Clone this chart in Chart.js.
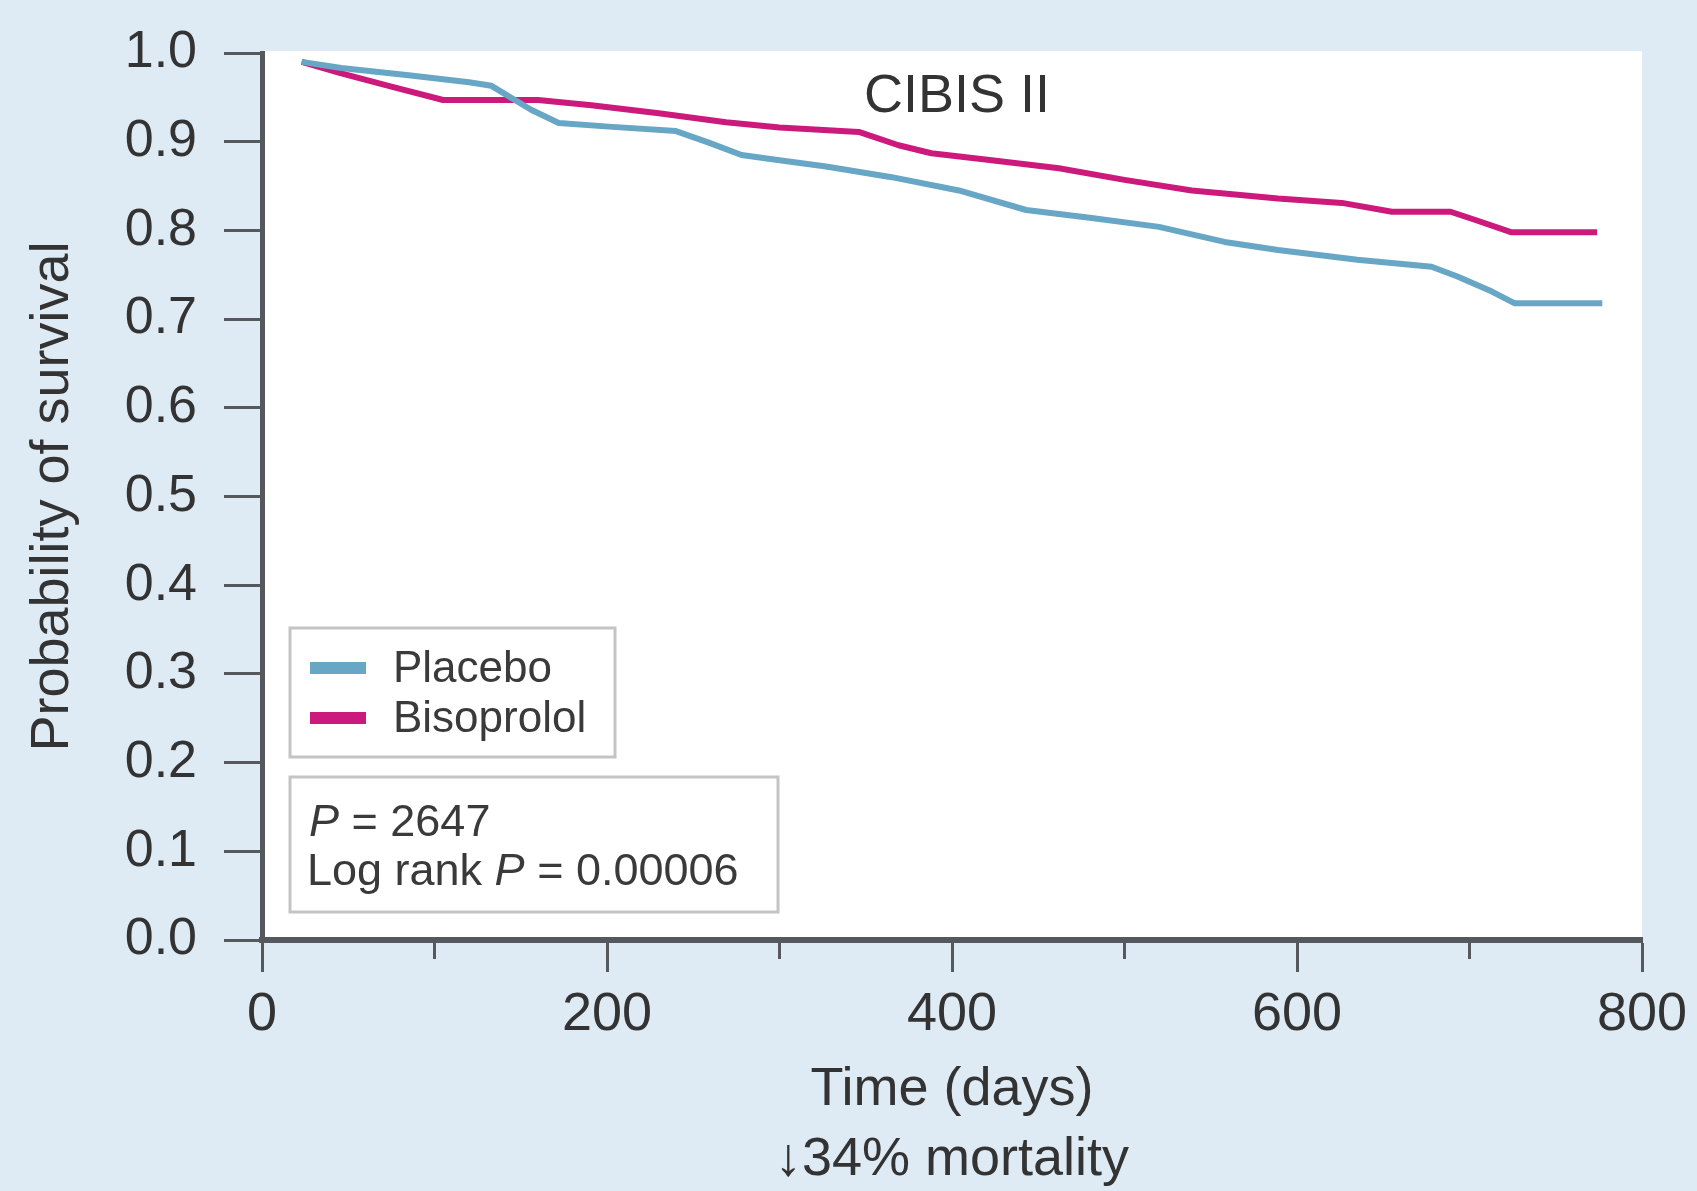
<!DOCTYPE html>
<html>
<head>
<meta charset="utf-8">
<title>CIBIS II</title>
<script src="https://cdn.jsdelivr.net/npm/chart.js@4.4.1/dist/chart.umd.min.js"></script>
<style>
    html, body { margin: 0; padding: 0; background: #deeaf4; }
    canvas { display: block; }
</style>
</head>
<body>
<canvas id="survChart" width="1697" height="1191"></canvas>
<script>
// survival curves (days, probability)
const placeboDays = [23, 46, 85, 120, 133, 156, 172, 201, 240, 259, 278, 300, 327, 365, 404, 443, 481, 520, 558, 589, 635, 678, 693, 713, 726, 777];
const placeboSurv = [0.990, 0.983, 0.975, 0.967, 0.963, 0.936, 0.921, 0.917, 0.912, 0.899, 0.885, 0.879, 0.872, 0.860, 0.845, 0.823, 0.814, 0.804, 0.787, 0.778, 0.767, 0.759, 0.748, 0.731, 0.718, 0.718];
const bisoDays = [23, 46, 75, 105, 160, 191, 230, 269, 300, 346, 369, 388, 423, 462, 500, 539, 589, 626, 655, 689, 703, 724, 774];
const bisoSurv = [0.990, 0.977, 0.962, 0.947, 0.947, 0.941, 0.932, 0.922, 0.916, 0.911, 0.896, 0.887, 0.879, 0.870, 0.857, 0.845, 0.836, 0.831, 0.821, 0.821, 0.812, 0.798, 0.798];

const seriesNames = ['Placebo', 'Bisoprolol'];
const seriesColors = ['#68a6c6', '#cc1a7c'];

const xTickValues = [0, 100, 200, 300, 400, 500, 600, 700, 800];
const xTickLabels = ['0', '', '200', '', '400', '', '600', '', '800'];
const yTickValues = [0, 0.1, 0.2, 0.3, 0.4, 0.5, 0.6, 0.7, 0.8, 0.9, 1.0];
const yTickLabels = ['0.0', '0.1', '0.2', '0.3', '0.4', '0.5', '0.6', '0.7', '0.8', '0.9', '1.0'];

const chartTitle = 'CIBIS II';
const xTitleLines = ['Time (days)', '\u219334% mortality'];
const yTitle = 'Probability of survival';
const sampleSize = '2647';
const logRankP = '0.00006';

const FONT = '"Liberation Sans", Arial, Helvetica, sans-serif';
const AXIS = '#55595d';
const TEXT = '#333333';

Chart.defaults.font.family = FONT;
Chart.defaults.color = TEXT;

function toPoints(days, surv) {
    return days.map((d, i) => ({ x: d, y: surv[i] }));
}

// italic P followed by normal text
function drawMixed(ctx, parts, x, y, size) {
    parts.forEach(p => {
        ctx.font = (p.italic ? 'italic ' : '') + size + 'px ' + FONT;
        ctx.fillText(p.text, x, y);
        x += ctx.measureText(p.text).width;
    });
}

const decor = {
    id: 'decor',
    beforeDraw(chart) {
        const ca = chart.chartArea;
        const ctx = chart.ctx;
        ctx.save();
        ctx.fillStyle = '#ffffff';
        ctx.fillRect(ca.left, ca.top - 2, ca.right - ca.left, ca.bottom - ca.top + 2);
        ctx.restore();
    },
    afterDraw(chart) {
        const ca = chart.chartArea;
        const ctx = chart.ctx;
        const xs = chart.scales.x;
        ctx.save();

        // minor ticks on the time axis
        ctx.strokeStyle = AXIS;
        ctx.lineWidth = 3;
        xTickValues.forEach((v, i) => {
            if (xTickLabels[i]) return;
            const px = xs.getPixelForValue(v);
            ctx.beginPath();
            ctx.moveTo(px, xs.top);
            ctx.lineTo(px, xs.top + 19);
            ctx.stroke();
        });

        // title inside the plot
        ctx.fillStyle = TEXT;
        ctx.font = '54px ' + FONT;
        ctx.textAlign = 'center';
        ctx.textBaseline = 'alphabetic';
        ctx.fillText(chartTitle, (ca.left + ca.right) / 2 + 5, ca.top + 59);

        // legend box
        ctx.textAlign = 'left';
        ctx.strokeStyle = '#c4c4c4';
        ctx.lineWidth = 3;
        ctx.strokeRect(ca.left + 28, ca.bottom - 312, 325, 129);
        seriesNames.forEach((name, i) => {
            const y = ca.bottom - 272 + i * 50;
            ctx.fillStyle = seriesColors[i];
            ctx.fillRect(ca.left + 48, y - 6, 56, 12);
            ctx.fillStyle = '#3a3a3a';
            ctx.font = '44px ' + FONT;
            ctx.fillText(name, ctx.canvas ? ca.left + 131 : 0, y + 14);
        });

        // stats box
        ctx.strokeRect(ca.left + 28, ca.bottom - 163, 488, 135);
        ctx.fillStyle = '#3a3a3a';
        drawMixed(ctx, [{ text: 'P', italic: true }, { text: ' = ' + sampleSize }], ca.left + 47, ca.bottom - 104, 45);
        drawMixed(ctx, [{ text: 'Log rank ' }, { text: 'P', italic: true }, { text: ' = ' + logRankP }], ca.left + 45, ca.bottom - 55, 45);

        ctx.restore();
    }
};

const chart = new Chart(document.getElementById('survChart').getContext('2d'), {
    type: 'line',
    data: {
        datasets: [
            {
                label: seriesNames[0],
                data: toPoints(placeboDays, placeboSurv),
                borderColor: seriesColors[0],
                borderWidth: 6,
                pointRadius: 0,
                tension: 0,
                fill: false,
                borderJoinStyle: 'round'
            },
            {
                label: seriesNames[1],
                data: toPoints(bisoDays, bisoSurv),
                borderColor: seriesColors[1],
                borderWidth: 6,
                pointRadius: 0,
                tension: 0,
                fill: false,
                borderJoinStyle: 'round'
            }
        ]
    },
    options: {
        responsive: false,
        animation: false,
        devicePixelRatio: 1,
        layout: { padding: { left: 0, top: 53, right: 55, bottom: 0 } },
        plugins: {
            legend: { display: false },
            tooltip: { enabled: false },
            title: { display: false }
        },
        scales: {
            x: {
                type: 'linear',
                min: 0,
                max: 800,
                afterBuildTicks: s => { s.ticks = xTickValues.map(v => ({ value: v })); },
                afterFit: s => { s.height = 251; s.paddingLeft = 0; s.paddingRight = 0; },
                ticks: {
                    autoSkip: false,
                    maxRotation: 0,
                    padding: 11,
                    color: TEXT,
                    font: { size: 54 },
                    callback: (v, i) => xTickLabels[i]
                },
                grid: {
                    drawOnChartArea: false,
                    tickLength: 32,
                    tickWidth: 3,
                    tickColor: c => xTickLabels[c.index] ? AXIS : 'rgba(0,0,0,0)'
                },
                border: { color: AXIS, width: 6 },
                title: {
                    display: true,
                    text: xTitleLines,
                    color: TEXT,
                    font: { size: 54, lineHeight: 1.3 },
                    padding: { top: 0, bottom: -4 }
                }
            },
            y: {
                min: 0,
                max: 1,
                afterBuildTicks: s => { s.ticks = yTickValues.map(v => ({ value: v })); },
                afterFit: s => { s.width = 262; s.paddingTop = 0; s.paddingBottom = 0; },
                ticks: {
                    padding: 27,
                    color: TEXT,
                    font: { size: 52 },
                    callback: (v, i) => yTickLabels[i]
                },
                grid: {
                    drawOnChartArea: false,
                    tickLength: 38,
                    tickWidth: 3,
                    tickColor: AXIS
                },
                border: { color: AXIS, width: 5 },
                title: {
                    display: true,
                    text: yTitle,
                    color: TEXT,
                    font: { size: 54 },
                    padding: { top: 21, bottom: 0 }
                }
            }
        }
    },
    plugins: [decor]
});
</script>
</body>
</html>
